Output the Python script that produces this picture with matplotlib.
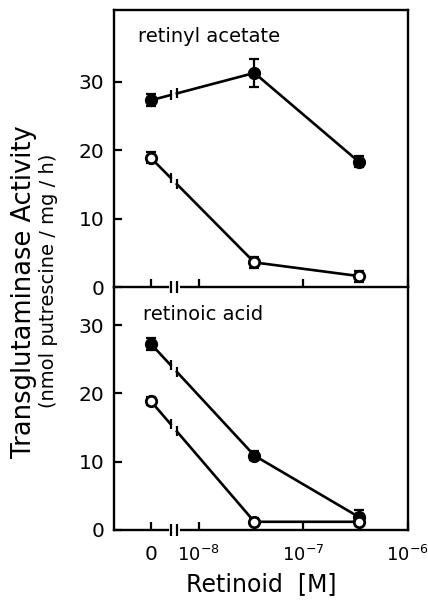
import numpy as np
import matplotlib.pyplot as plt

# retinoid concentrations (M), 0 = control
conc = [0, 3.4e-8, 3.4e-7]

# retinyl acetate panel
acetate_filled = [27.3, 31.3, 18.3]
acetate_filled_err = [0.9, 2.0, 0.8]
acetate_open = [18.9, 3.6, 1.6]
acetate_open_err = [0.8, 0.8, 0.8]

# retinoic acid panel
acid_filled = [27.3, 10.9, 1.9]
acid_filled_err = [0.9, 0.7, 1.0]
acid_open = [18.9, 1.2, 1.2]
acid_open_err = [0.6, 0.5, 0.5]

xtick_labels = ['0', r'$\mathregular{10^{-8}}$', r'$\mathregular{10^{-7}}$', r'$\mathregular{10^{-6}}$']
yticks = [0, 10, 20, 30]

ZERO_POS = -8.46          # where "0" sits on the log10 axis
GAP = (-8.27, -8.21)      # axis break between 0 and 10^-8


def xpos(c):
    return np.array([ZERO_POS if v == 0 else np.log10(v) for v in c])


def draw_series(ax, y, err, filled):
    x = xpos(conc)
    y = np.array(y, dtype=float)
    yg = np.interp(GAP, x[:2], y[:2])
    face = 'black' if filled else 'white'
    ax.errorbar(x, y, yerr=err, fmt='none', ecolor='black', elinewidth=1.6,
                capsize=3.5, capthick=1.6, zorder=2)
    ax.plot([x[0], GAP[0]], [y[0], yg[0]], color='black', lw=1.9, zorder=1)
    ax.plot(np.r_[GAP[1], x[1:]], np.r_[yg[1], y[1:]], color='black', lw=1.9, zorder=1)
    ax.plot(GAP, yg, ls='none', marker='|', ms=7, mew=1.6, color='black', zorder=1)
    ax.plot(x, y, ls='none', marker='o', ms=7.5, mfc=face, mec='black', mew=2.0, zorder=3)


fig = plt.figure(figsize=(4.28, 6.03), dpi=100)
ax1 = fig.add_axes([0.266, 0.524, 0.687, 0.4594])
ax2 = fig.add_axes([0.266, 0.1211, 0.687, 0.4029])
ax2.patch.set_visible(False)

draw_series(ax1, acetate_filled, acetate_filled_err, True)
draw_series(ax1, acetate_open, acetate_open_err, False)
draw_series(ax2, acid_filled, acid_filled_err, True)
draw_series(ax2, acid_open, acid_open_err, False)

ax1.set_ylim(0, 40.5)
ax2.set_ylim(0, 35.6)

for ax in (ax1, ax2):
    ax.set_xlim(-8.813, -6.0)
    ax.set_xticks([ZERO_POS, -8, -7, -6])
    ax.set_yticks(yticks)
    ax.tick_params(direction='in', length=6, width=1.6, labelsize=14.5, pad=7,
                   top=False, right=False)
    ax.tick_params(axis='x', labelsize=13, pad=11)
    for s in ax.spines.values():
        s.set_linewidth(1.7)
    # break in the x axis
    tr = ax.get_xaxis_transform()
    ax.plot(GAP, [0, 0], color='white', lw=3.5, transform=tr, clip_on=False, zorder=5)
    ax.plot(GAP, [0, 0], ls='none', marker='|', ms=8, mew=1.6, color='black',
            transform=tr, clip_on=False, zorder=6)

ax1.tick_params(labelbottom=False)
ax2.spines['top'].set_visible(False)
ax2.set_xticklabels(xtick_labels)
ax2.get_xticklabels()[0].set_fontsize(14.5)

ax1.text(0.082, 0.884, 'retinyl acetate', transform=ax1.transAxes, fontsize=14, va='baseline')
ax2.text(0.099, 0.864, 'retinoic acid', transform=ax2.transAxes, fontsize=14, va='baseline')

ax2.set_xlabel('Retinoid  [M]', fontsize=17, labelpad=5)
fig.text(0.056, 0.516, 'Transglutaminase Activity', rotation=90, fontsize=18.5,
         ha='center', va='center')
fig.text(0.113, 0.535, '(nmol putrescine / mg / h)', rotation=90, fontsize=14,
         ha='center', va='center')

fig.savefig('out.png', dpi=100)
